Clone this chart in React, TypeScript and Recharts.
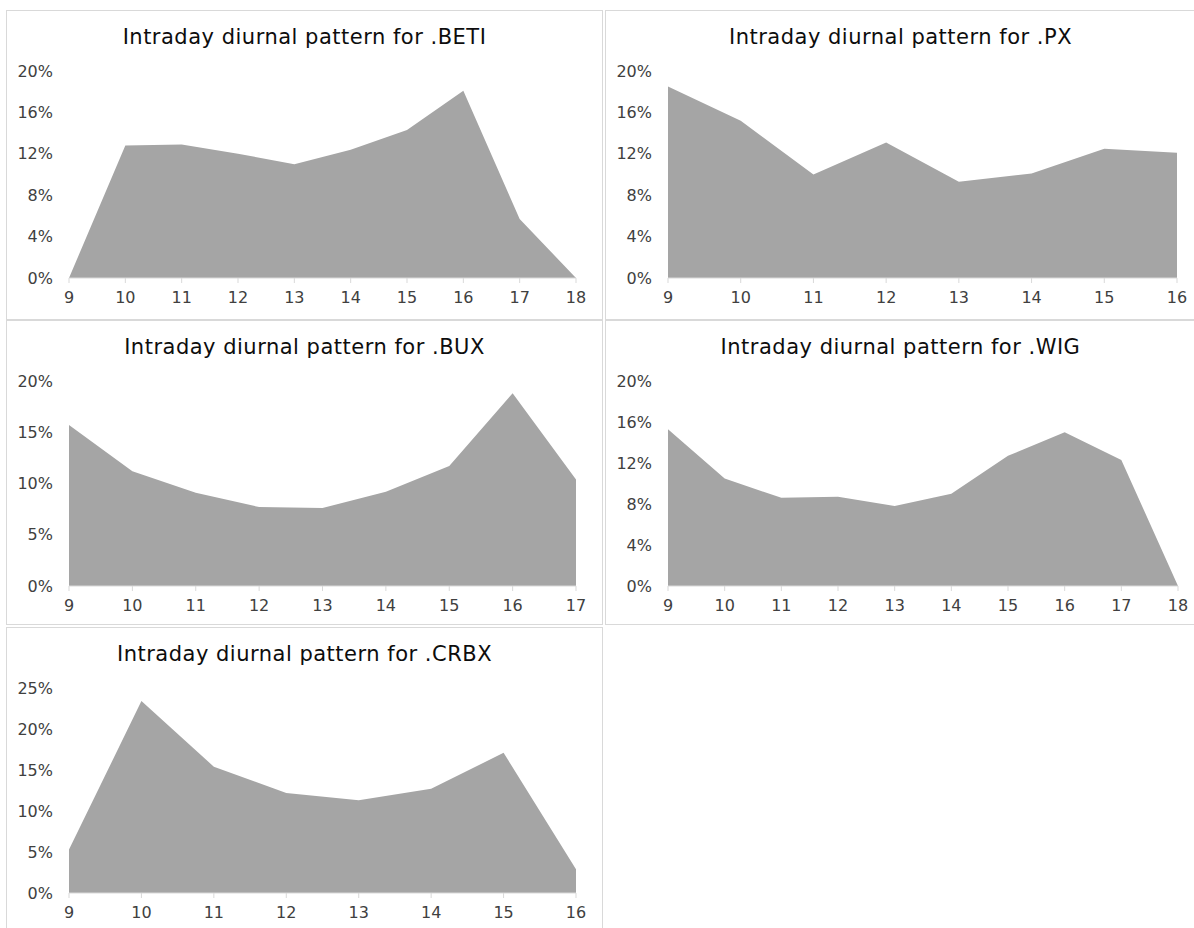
import React from 'react';
import { AreaChart, Area, XAxis, YAxis } from 'recharts';

// hours of the trading day and share of daily volume (%) per index
const betiHours = ['9', '10', '11', '12', '13', '14', '15', '16', '17', '18'];
const betiShare = [0, 12.8, 12.9, 12.0, 11.0, 12.4, 14.3, 18.1, 5.7, 0];

const pxHours = ['9', '10', '11', '12', '13', '14', '15', '16'];
const pxShare = [18.5, 15.2, 10.0, 13.1, 9.3, 10.1, 12.5, 12.1];

const buxHours = ['9', '10', '11', '12', '13', '14', '15', '16', '17'];
const buxShare = [15.7, 11.2, 9.1, 7.7, 7.6, 9.2, 11.7, 18.8, 10.4];

const wigHours = ['9', '10', '11', '12', '13', '14', '15', '16', '17', '18'];
const wigShare = [15.3, 10.5, 8.6, 8.7, 7.8, 9.0, 12.7, 15.0, 12.3, 0];

const crbxHours = ['9', '10', '11', '12', '13', '14', '15', '16'];
const crbxShare = [5.3, 23.4, 15.4, 12.2, 11.3, 12.7, 17.1, 2.9];

const ticks4 = [0, 4, 8, 12, 16, 20];
const ticks5 = [0, 5, 10, 15, 20];
const ticks5to25 = [0, 5, 10, 15, 20, 25];

const FONT = '"DejaVu Sans", Verdana, sans-serif';
const FILL = '#a5a5a5';
const AXIS = '#d9d9d9';
const TICK_TEXT = '#404040';

interface PanelProps {
  name: string;
  hours: string[];
  share: number[];
  yTicks: number[];
  left: number;
  top: number;
  width: number;
  height: number;
  bottomGap: number;
  rightGap: number;
}

const Panel: React.FC<PanelProps> = ({ name, hours, share, yTicks, left, top, width, height, bottomGap, rightGap }) => {
  const data = hours.map((h, i) => ({ hour: h, share: share[i] }));
  const innerW = width - 2;
  const innerH = height - 2;
  return (
    <div
      style={{
        position: 'absolute',
        left,
        top,
        width,
        height,
        boxSizing: 'border-box',
        border: `1px solid ${AXIS}`,
        background: '#fff',
      }}
    >
      <div
        style={{
          position: 'absolute',
          left: 0,
          right: 0,
          top: 15,
          textAlign: 'center',
          fontFamily: FONT,
          fontSize: 21,
          lineHeight: '22px',
          letterSpacing: 0.5,
          color: '#0d0d0d',
        }}
      >
        Intraday diurnal pattern for .{name}
      </div>
      <AreaChart
        width={innerW}
        height={innerH}
        data={data}
        margin={{ top: 60, right: rightGap, left: 0, bottom: bottomGap }}
      >
        <XAxis
          dataKey="hour"
          interval={0}
          height={30}
          stroke={AXIS}
          tickSize={5}
          tickMargin={9}
          tick={{ fill: TICK_TEXT, fontSize: 16, fontFamily: FONT }}
        />
        <YAxis
          width={62}
          domain={[0, yTicks[yTicks.length - 1]]}
          ticks={yTicks}
          axisLine={false}
          tickLine={false}
          tickMargin={10}
          tickFormatter={(v: number) => `${v}%`}
          tick={{ fill: TICK_TEXT, fontSize: 16, fontFamily: FONT }}
        />
        <Area
          type="linear"
          dataKey="share"
          stroke="none"
          fill={FILL}
          fillOpacity={1}
          isAnimationActive={false}
        />
      </AreaChart>
    </div>
  );
};

const App: React.FC = () => {
  return (
    <div
      style={{
        position: 'absolute',
        left: 0,
        top: 0,
        width: 1194,
        height: 928,
        overflow: 'hidden',
        background: '#fff',
      }}
    >
      <Panel name="BETI" hours={betiHours} share={betiShare} yTicks={ticks4}
        left={6} top={10} width={597} height={310} bottomGap={11} rightGap={26} />
      <Panel name="PX" hours={pxHours} share={pxShare} yTicks={ticks4}
        left={605} top={10} width={591} height={310} bottomGap={11} rightGap={18} />
      <Panel name="BUX" hours={buxHours} share={buxShare} yTicks={ticks5}
        left={6} top={320} width={597} height={305} bottomGap={8} rightGap={26} />
      <Panel name="WIG" hours={wigHours} share={wigShare} yTicks={ticks4}
        left={605} top={320} width={591} height={305} bottomGap={8} rightGap={17} />
      <Panel name="CRBX" hours={crbxHours} share={crbxShare} yTicks={ticks5to25}
        left={6} top={627} width={597} height={311} bottomGap={14} rightGap={26} />
    </div>
  );
};

export default App;
